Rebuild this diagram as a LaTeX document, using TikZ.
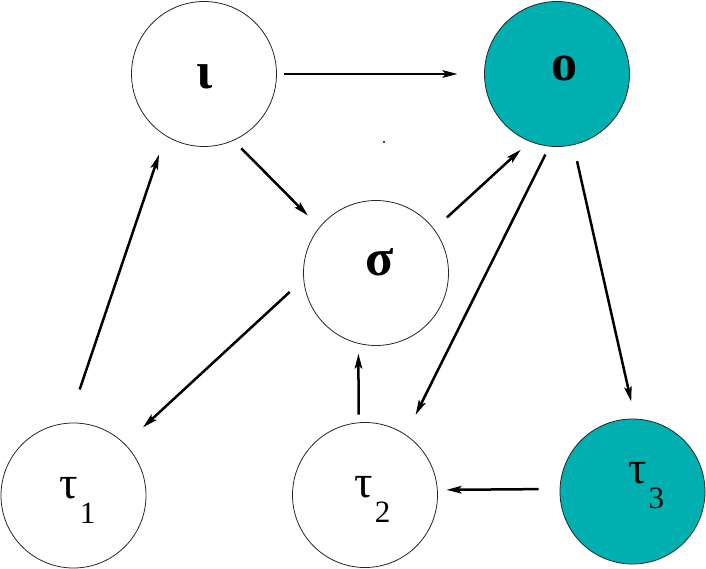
\documentclass[tikz,border=0pt]{standalone}
\usepackage{fontspec}
\setmainfont{Liberation Serif}
\usetikzlibrary{arrows.meta}
\definecolor{tealfill}{RGB}{0,176,176}
\newcommand\mysub[1]{\hspace{2pt}\raisebox{-25pt}{\fontsize{31}{31}\selectfont #1}}
\begin{document}
\begin{tikzpicture}[x=1pt,y=-1pt,
  state/.style={circle,draw=black!85,line width=0.8pt,minimum size=145pt,inner sep=0pt},
  filled/.style={state,fill=tealfill},
  lbl/.style={font=\fontsize{46}{46}\selectfont,inner sep=0pt},
  lblbig/.style={font=\fontsize{52}{52}\selectfont\bfseries,inner sep=0pt},
  arr/.style={line width=2.5pt,-{Stealth[length=15pt,width=7.5pt,inset=3pt]}}
]
\useasboundingbox (0,0) rectangle (706,569);
\node[state,label={[lblbig,xshift=1pt,yshift=-3pt]center:ι}] (i) at (204,74) {};
\node[filled,label={[lblbig,xshift=7pt,yshift=5pt]center:ο}] (o) at (557,74) {};
\node[state,label={[lblbig,xshift=4pt,yshift=11pt]center:σ}] (s) at (376,273) {};
\node[state,label={[lbl,xshift=4pt,yshift=-4.5pt]center:τ\mysub{1}}] (t1) at (73.5,495.5) {};
\node[state,label={[lbl,xshift=7.5pt,yshift=-4pt]center:τ\mysub{2}}] (t2) at (365,495) {};
\node[filled,label={[lbl,xshift=13.5pt,yshift=5.5pt]center:τ\mysub{3}}] (t3) at (632.5,491.5) {};
\fill (384,142) circle (1.2pt);
\draw[arr, shorten <=7.5pt, shorten >=26.5pt] (i.0) -- (o.180);
\draw[arr, shorten <=10.8pt, shorten >=16.3pt] (i.-66.1) -- (s.141.2);
\draw[arr, shorten <=35.1pt, shorten >=19.7pt] (t1.94.6) -- (i.-122.3);
\draw[arr, shorten <=17.2pt, shorten >=12.1pt] (s.37.8) -- (o.-112.8);
\draw[arr, shorten <=8.9pt, shorten >=22pt] (o.-96.3) -- (t2.56.3);
\draw[arr, shorten <=16.6pt, shorten >=17.5pt] (o.-77.8) -- (t3.88.1);
\draw[arr, shorten <=18.6pt, shorten >=24.4pt] (s.-175.7) -- (t1.45.8);
\draw[arr, shorten <=7.8pt, shorten >=9.8pt] (t2.95.5) -- (s.-104.4);
\draw[arr, shorten <=21pt, shorten >=8.7pt] (t3.178.8) -- (t2.4);
\end{tikzpicture}
\end{document}
